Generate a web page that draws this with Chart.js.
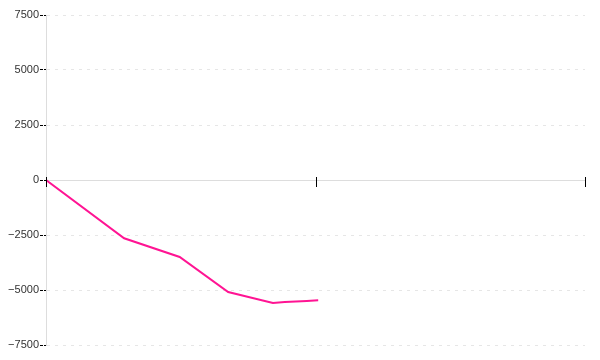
<!DOCTYPE html>
<html>
<head>
<meta charset="utf-8">
<script src="https://cdn.jsdelivr.net/npm/chart.js@4/dist/chart.umd.min.js"></script>
<style>
  html, body { margin: 0; padding: 0; background: #fff; }
  #wrap { width: 600px; height: 360px; }
</style>
</head>
<body>
<div id="wrap"><canvas id="line-chart"></canvas></div>
<script>
const xValues = [0, 14.5, 24.8, 33.8, 42.1, 44.3, 48.4, 50.5]
const yValues = [0, -2650, -3500, -5090, -5590, -5550, -5500, -5470]
const yTicks = [-7500, -5000, -2500, 0, 2500, 5000, 7500]
const xTicks = [0, 50, 100]

const pointsData = []
for (let i = 0; i < xValues.length; i++) {
  pointsData.push({ x: xValues[i], y: yValues[i] })
}

// tick marks on the x axis cross the zero line
const xTickMarks = {
  id: 'xTickMarks',
  afterDraw (chart) {
    const ctx = chart.ctx
    const xs = chart.scales.x
    const y0 = Math.round(chart.scales.y.getPixelForValue(0))
    ctx.save()
    ctx.strokeStyle = '#000'
    ctx.lineWidth = 1
    ctx.beginPath()
    for (let i = 0; i < xTicks.length; i++) {
      const px = Math.round(xs.getPixelForValue(xTicks[i])) + 0.5
      ctx.moveTo(px, y0 - 3)
      ctx.lineTo(px, y0 + 7)
    }
    ctx.stroke()
    ctx.restore()
  },
}

const lineChartConfig = {
  type: 'line',
  data: {
    datasets: [{
      data: pointsData,
      borderColor: '#ff1493',
      borderWidth: 2,
      fill: false,
      tension: 0,
    }],
  },
  options: {
    responsive: true,
    maintainAspectRatio: false,
    animation: false,
    layout: {
      padding: { top: 15, bottom: 15, right: 15, left: 0 },
    },
    plugins: {
      legend: { display: false },
      tooltip: { enabled: false },
    },
    elements: {
      point: { radius: 0 },
    },
    scales: {
      x: {
        type: 'linear',
        min: 0,
        max: 100,
        position: { y: 0 },
        afterBuildTicks (scale) {
          scale.ticks = xTicks.map(v => ({ value: v }))
        },
        afterFit (scale) {
          scale.height = 0
        },
        grid: { display: false },
        border: { display: false },
        ticks: { display: false },
      },
      y: {
        min: -7500,
        max: 7500,
        afterBuildTicks (scale) {
          scale.ticks = yTicks.map(v => ({ value: v }))
        },
        afterFit (scale) {
          scale.width = 46
        },
        grid: {
          color: (c) => (c.tick && c.tick.value === 0 ? '#dddddd' : '#e6e6e6'),
          tickColor: '#000',
          tickLength: 6,
          tickBorderDash: [3, 1],
        },
        border: {
          display: true,
          color: '#dddddd',
          dash: (c) => (c.tick && c.tick.value === 0 ? [] : [3, 5]),
        },
        ticks: {
          padding: 1,
          color: '#333',
          font: { family: 'Liberation Sans, Arial, sans-serif', size: 11 },
          callback: (v) => (v < 0 ? '\u2212' + Math.abs(v) : String(v)),
        },
      },
    },
  },
  plugins: [xTickMarks],
}

const lineChartCanvas = document.getElementById('line-chart').getContext('2d')
const lineChart = new Chart(lineChartCanvas, lineChartConfig)
</script>
</body>
</html>
